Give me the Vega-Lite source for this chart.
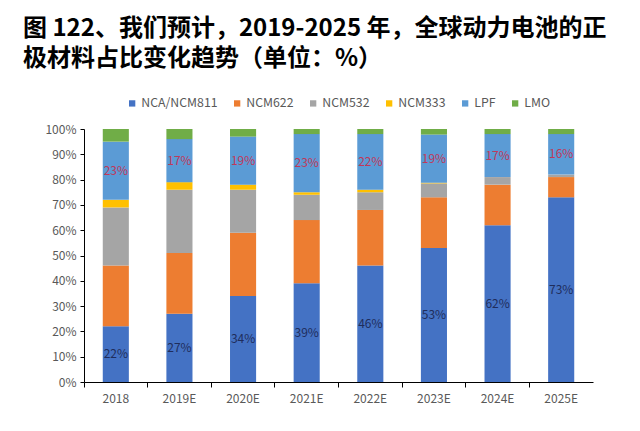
{
  "$schema": "https://vega.github.io/schema/vega-lite/v6.json",
  "description": "Global EV battery cathode material share forecast, 2018-2025E.",
  "width": 509,
  "height": 253,
  "autosize": {"type": "none"},
  "padding": {"left": 84, "top": 129, "right": 47, "bottom": 49},
  "background": "white",
  "title": {
    "text": ["图 122、我们预计，2019-2025 年，全球动力电池的正", "极材料占比变化趋势（单位：%）"],
    "anchor": "start",
    "frame": "bounds",
    "font": "Noto Sans CJK SC",
    "fontSize": 24,
    "fontWeight": "bold",
    "color": "#000000",
    "lineHeight": 30,
    "offset": 26,
    "dx": -22
  },
  "data": {
    "values": [
      {"year": "2018", "type": "NCA/NCM811", "k": 1, "share": 0.22},
      {"year": "2018", "type": "NCM622", "k": 2, "share": 0.24},
      {"year": "2018", "type": "NCM532", "k": 3, "share": 0.23},
      {"year": "2018", "type": "NCM333", "k": 4, "share": 0.03},
      {"year": "2018", "type": "LPF", "k": 5, "share": 0.23},
      {"year": "2018", "type": "LMO", "k": 6, "share": 0.05},
      {"year": "2019E", "type": "NCA/NCM811", "k": 1, "share": 0.27},
      {"year": "2019E", "type": "NCM622", "k": 2, "share": 0.24},
      {"year": "2019E", "type": "NCM532", "k": 3, "share": 0.25},
      {"year": "2019E", "type": "NCM333", "k": 4, "share": 0.03},
      {"year": "2019E", "type": "LPF", "k": 5, "share": 0.17},
      {"year": "2019E", "type": "LMO", "k": 6, "share": 0.04},
      {"year": "2020E", "type": "NCA/NCM811", "k": 1, "share": 0.34},
      {"year": "2020E", "type": "NCM622", "k": 2, "share": 0.25},
      {"year": "2020E", "type": "NCM532", "k": 3, "share": 0.17},
      {"year": "2020E", "type": "NCM333", "k": 4, "share": 0.02},
      {"year": "2020E", "type": "LPF", "k": 5, "share": 0.19},
      {"year": "2020E", "type": "LMO", "k": 6, "share": 0.03},
      {"year": "2021E", "type": "NCA/NCM811", "k": 1, "share": 0.39},
      {"year": "2021E", "type": "NCM622", "k": 2, "share": 0.25},
      {"year": "2021E", "type": "NCM532", "k": 3, "share": 0.10},
      {"year": "2021E", "type": "NCM333", "k": 4, "share": 0.01},
      {"year": "2021E", "type": "LPF", "k": 5, "share": 0.23},
      {"year": "2021E", "type": "LMO", "k": 6, "share": 0.02},
      {"year": "2022E", "type": "NCA/NCM811", "k": 1, "share": 0.46},
      {"year": "2022E", "type": "NCM622", "k": 2, "share": 0.22},
      {"year": "2022E", "type": "NCM532", "k": 3, "share": 0.07},
      {"year": "2022E", "type": "NCM333", "k": 4, "share": 0.01},
      {"year": "2022E", "type": "LPF", "k": 5, "share": 0.22},
      {"year": "2022E", "type": "LMO", "k": 6, "share": 0.02},
      {"year": "2023E", "type": "NCA/NCM811", "k": 1, "share": 0.53},
      {"year": "2023E", "type": "NCM622", "k": 2, "share": 0.20},
      {"year": "2023E", "type": "NCM532", "k": 3, "share": 0.055},
      {"year": "2023E", "type": "NCM333", "k": 4, "share": 0.003},
      {"year": "2023E", "type": "LPF", "k": 5, "share": 0.19},
      {"year": "2023E", "type": "LMO", "k": 6, "share": 0.022},
      {"year": "2024E", "type": "NCA/NCM811", "k": 1, "share": 0.62},
      {"year": "2024E", "type": "NCM622", "k": 2, "share": 0.16},
      {"year": "2024E", "type": "NCM532", "k": 3, "share": 0.03},
      {"year": "2024E", "type": "NCM333", "k": 4, "share": 0},
      {"year": "2024E", "type": "LPF", "k": 5, "share": 0.17},
      {"year": "2024E", "type": "LMO", "k": 6, "share": 0.02},
      {"year": "2025E", "type": "NCA/NCM811", "k": 1, "share": 0.73},
      {"year": "2025E", "type": "NCM622", "k": 2, "share": 0.08},
      {"year": "2025E", "type": "NCM532", "k": 3, "share": 0.01},
      {"year": "2025E", "type": "NCM333", "k": 4, "share": 0},
      {"year": "2025E", "type": "LPF", "k": 5, "share": 0.16},
      {"year": "2025E", "type": "LMO", "k": 6, "share": 0.02}
    ]
  },
  "encoding": {
    "x": {
      "field": "year",
      "type": "nominal",
      "sort": null,
      "scale": {"paddingInner": 0, "paddingOuter": 0},
      "axis": {
        "title": null,
        "labelAngle": 0,
        "bandPosition": 0,
        "labelPadding": 6,
        "tickSize": 5
      }
    },
    "y": {
      "field": "share",
      "type": "quantitative",
      "stack": "zero",
      "scale": {"domain": [0, 1], "nice": false},
      "axis": {
        "title": null,
        "format": ".0%",
        "values": [0, 0.1, 0.2, 0.3, 0.4, 0.5, 0.6, 0.7, 0.8, 0.9, 1],
        "grid": false,
        "tickSize": 4,
        "labelPadding": 4
      }
    },
    "order": {"field": "k", "type": "quantitative", "sort": "ascending"}
  },
  "layer": [
    {
      "mark": {"type": "bar", "width": {"band": 0.41}},
      "encoding": {
        "color": {
          "field": "type",
          "type": "nominal",
          "scale": {
            "domain": ["NCA/NCM811", "NCM622", "NCM532", "NCM333", "LPF", "LMO"],
            "range": ["#4472C4", "#ED7D31", "#A5A5A5", "#FFC000", "#5B9BD5", "#70AD47"]
          },
          "legend": {
            "title": null,
            "orient": "top",
            "direction": "horizontal",
            "symbolType": "square",
            "symbolSize": 40,
            "symbolStrokeWidth": 0,
            "labelOffset": 3,
            "columnPadding": 13,
            "offset": 19
          }
        }
      }
    },
    {
      "mark": {"type": "text", "font": "Noto Sans CJK SC", "fontSize": 12},
      "encoding": {
        "y": {"field": "share", "type": "quantitative", "stack": "zero", "bandPosition": 0.5},
        "detail": {"field": "type", "type": "nominal"},
        "text": {
          "condition": {
            "test": "datum.type === 'NCA/NCM811' || datum.type === 'LPF'",
            "field": "share",
            "type": "quantitative",
            "format": ".0%"
          },
          "value": ""
        },
        "color": {
          "condition": {"test": "datum.type === 'LPF'", "value": "#C0385A"},
          "value": "#1F2D5C"
        }
      }
    }
  ],
  "config": {
    "view": {"stroke": null},
    "font": "Noto Sans CJK SC",
    "axis": {
      "labelFont": "Noto Sans CJK SC",
      "labelFontSize": 12,
      "labelColor": "#595959",
      "domainColor": "#000000",
      "tickColor": "#000000",
      "domainWidth": 1
    },
    "legend": {
      "labelFont": "Noto Sans CJK SC",
      "labelFontSize": 12.3,
      "labelColor": "#595959",
      "layout": {"top": {"anchor": "middle"}}
    }
  }
}
